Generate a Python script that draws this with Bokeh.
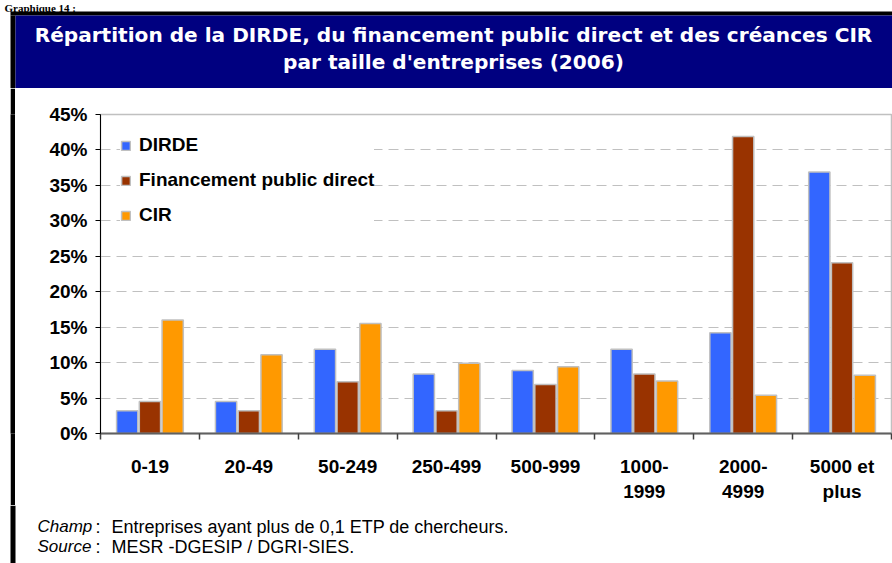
from bokeh.plotting import figure
from bokeh.models import ColumnDataSource, Range1d, FixedTicker, PrintfTickFormatter, Label
from bokeh.layouts import column, row
from bokeh.transform import dodge
from bokeh.embed import file_html
from bokeh.resources import INLINE

# ---------------- data ----------------
categories = ["0-19", "20-49", "50-249", "250-499", "500-999",
              "1000-\n1999", "2000-\n4999", "5000 et\nplus"]
dirde = [3.2, 4.5, 11.9, 8.4, 8.9, 11.9, 14.2, 36.9]
financement = [4.5, 3.2, 7.3, 3.2, 6.9, 8.4, 41.9, 24.1]
cir = [16.0, 11.1, 15.5, 9.9, 9.4, 7.4, 5.4, 8.2]
series_names = ["DIRDE", "Financement public direct", "CIR"]
y_ticks = [0, 5, 10, 15, 20, 25, 30, 35, 40, 45]

heading = "Graphique 14 :"
title_line1 = "Répartition de la DIRDE, du financement public direct et des créances CIR"
title_line2 = "par taille d'entreprises (2006)"
note_labels = ["Champ", "Source"]
note_texts = ["Entreprises ayant plus de 0,1 ETP de chercheurs.",
              "MESR -DGESIP / DGRI-SIES."]

FONT = "Liberation Sans"
TITLE_FONT = "DejaVu Sans"
NAVY = "#000080"
COLORS = ["#3366FF", "#993300", "#FF9900"]
W = 892


def deco_fig(w, h, fill="white"):
    f = figure(width=w, height=h, x_range=Range1d(0, w), y_range=Range1d(0, h),
               toolbar_location=None, output_backend="svg", min_border=0, title=None,
               x_axis_location=None, y_axis_location=None)
    f.grid.grid_line_color = None
    f.outline_line_color = None
    f.background_fill_color = fill
    f.border_fill_color = fill
    return f


# ---------------- header (page y 0..88) ----------------
HH = 88
header = deco_fig(W, HH)
header.quad(left=[10], right=[W], bottom=[HH - 15], top=[HH - 11], fill_color="black", line_color=None)
header.quad(left=[10], right=[15], bottom=[0], top=[HH - 15], fill_color="black", line_color=None)
header.quad(left=[15], right=[W], bottom=[0], top=[HH - 15], fill_color=NAVY, line_color=None)
header.add_layout(Label(x=4, y=HH - 1, text=heading, text_baseline="top",
                        text_font="Liberation Serif", text_font_size="11px",
                        text_font_style="bold", text_color="black"))
for txt, py in [(title_line1, 34.5), (title_line2, 61.5)]:
    header.add_layout(Label(x=453, y=HH - py, text=txt, text_align="center",
                            text_baseline="middle", text_color="white",
                            text_font=TITLE_FONT, text_font_size="20.1px",
                            text_font_style="bold"))

# ---------------- chart row (page y 88..505) ----------------
CH = 417
white_strip = deco_fig(10, CH, "white")
black_strip = deco_fig(5, CH, "black")

n = len(categories)
src = ColumnDataSource(dict(x=list(range(n)), dirde=dirde, fin=financement, cir=cir))

p = figure(width=W - 15, height=CH, x_range=Range1d(-0.5, n - 0.5), y_range=Range1d(0, 45),
           toolbar_location=None, output_backend="svg", title=None,
           min_border_left=85, min_border_right=1, min_border_top=26, min_border_bottom=72)
p.background_fill_color = "white"
p.border_fill_color = "white"

for field, off, color, name in zip(["dirde", "fin", "cir"], [-0.23, 0.0, 0.23], COLORS, series_names):
    p.vbar(x=dodge("x", off), top=field, width=0.215, source=src,
           fill_color=color, line_color="#c0c0c0", line_width=1.5, legend_label=name)

yax = p.yaxis[0]
yax.ticker = FixedTicker(ticks=y_ticks)
yax.formatter = PrintfTickFormatter(format="%d%%")
yax.major_label_text_font = FONT
yax.major_label_text_font_size = "19px"
yax.major_label_text_font_style = "bold"
yax.major_label_text_color = "black"
yax.major_tick_out = 5
yax.major_tick_in = 0
yax.minor_tick_out = 0
yax.minor_tick_in = 0
yax.axis_line_color = "black"
yax.major_tick_line_color = "black"
yax.major_label_standoff = 8

xax = p.xaxis[0]
xax.ticker = FixedTicker(ticks=list(range(n)), minor_ticks=[i - 0.5 for i in range(n + 1)])
xax.major_label_overrides = {i: c for i, c in enumerate(categories)}
xax.major_tick_line_color = None
xax.major_tick_out = 0
xax.major_tick_in = 0
xax.minor_tick_out = 6
xax.minor_tick_in = 0
xax.minor_tick_line_color = "#404040"
xax.minor_tick_line_width = 1.5
xax.axis_line_color = "#606060"
xax.axis_line_width = 2
xax.major_label_standoff = 16
xax.major_label_text_font = FONT
xax.major_label_text_font_size = "19px"
xax.major_label_text_font_style = "bold"
xax.major_label_text_color = "black"
xax.major_label_text_line_height = 1.2

p.xgrid.visible = False
p.ygrid.ticker = FixedTicker(ticks=y_ticks[1:-1])
p.ygrid.grid_line_color = "#c0c0c0"
p.ygrid.grid_line_dash = "10 6"
p.ygrid.grid_line_width = 1
p.outline_line_color = "#c0c0c0"
p.outline_line_width = 1.5

leg = p.legend[0]
leg.location = "top_left"
leg.margin = 20
leg.padding = 12
leg.glyph_width = 11
leg.glyph_height = 11
leg.label_standoff = 8
leg.spacing = 13
leg.label_height = 20
leg.label_text_font = FONT
leg.label_text_font_size = "19px"
leg.label_text_font_style = "bold"
leg.label_text_color = "black"
leg.background_fill_color = "white"
leg.background_fill_alpha = 1
leg.border_line_color = None

# ---------------- footer (page y 505..563) ----------------
FH = 58
footer = deco_fig(W, FH)
footer.quad(left=[10], right=[15], bottom=[0], top=[FH], fill_color="black", line_color=None)
for lab, txt, py in zip(note_labels, note_texts, [21, 41]):
    yy = FH - py
    footer.add_layout(Label(x=37, y=yy, text=lab, text_baseline="middle", text_font=FONT,
                            text_font_size="17px", text_font_style="italic", text_color="black"))
    footer.add_layout(Label(x=95, y=yy, text=":", text_baseline="middle", text_font=FONT,
                            text_font_size="18px", text_color="black"))
    footer.add_layout(Label(x=111, y=yy, text=txt, text_baseline="middle", text_font=FONT,
                            text_font_size="18px", text_color="black"))

layout = column(header, row(white_strip, black_strip, p), footer)

open("out.html", "w").write(file_html(layout, INLINE))
